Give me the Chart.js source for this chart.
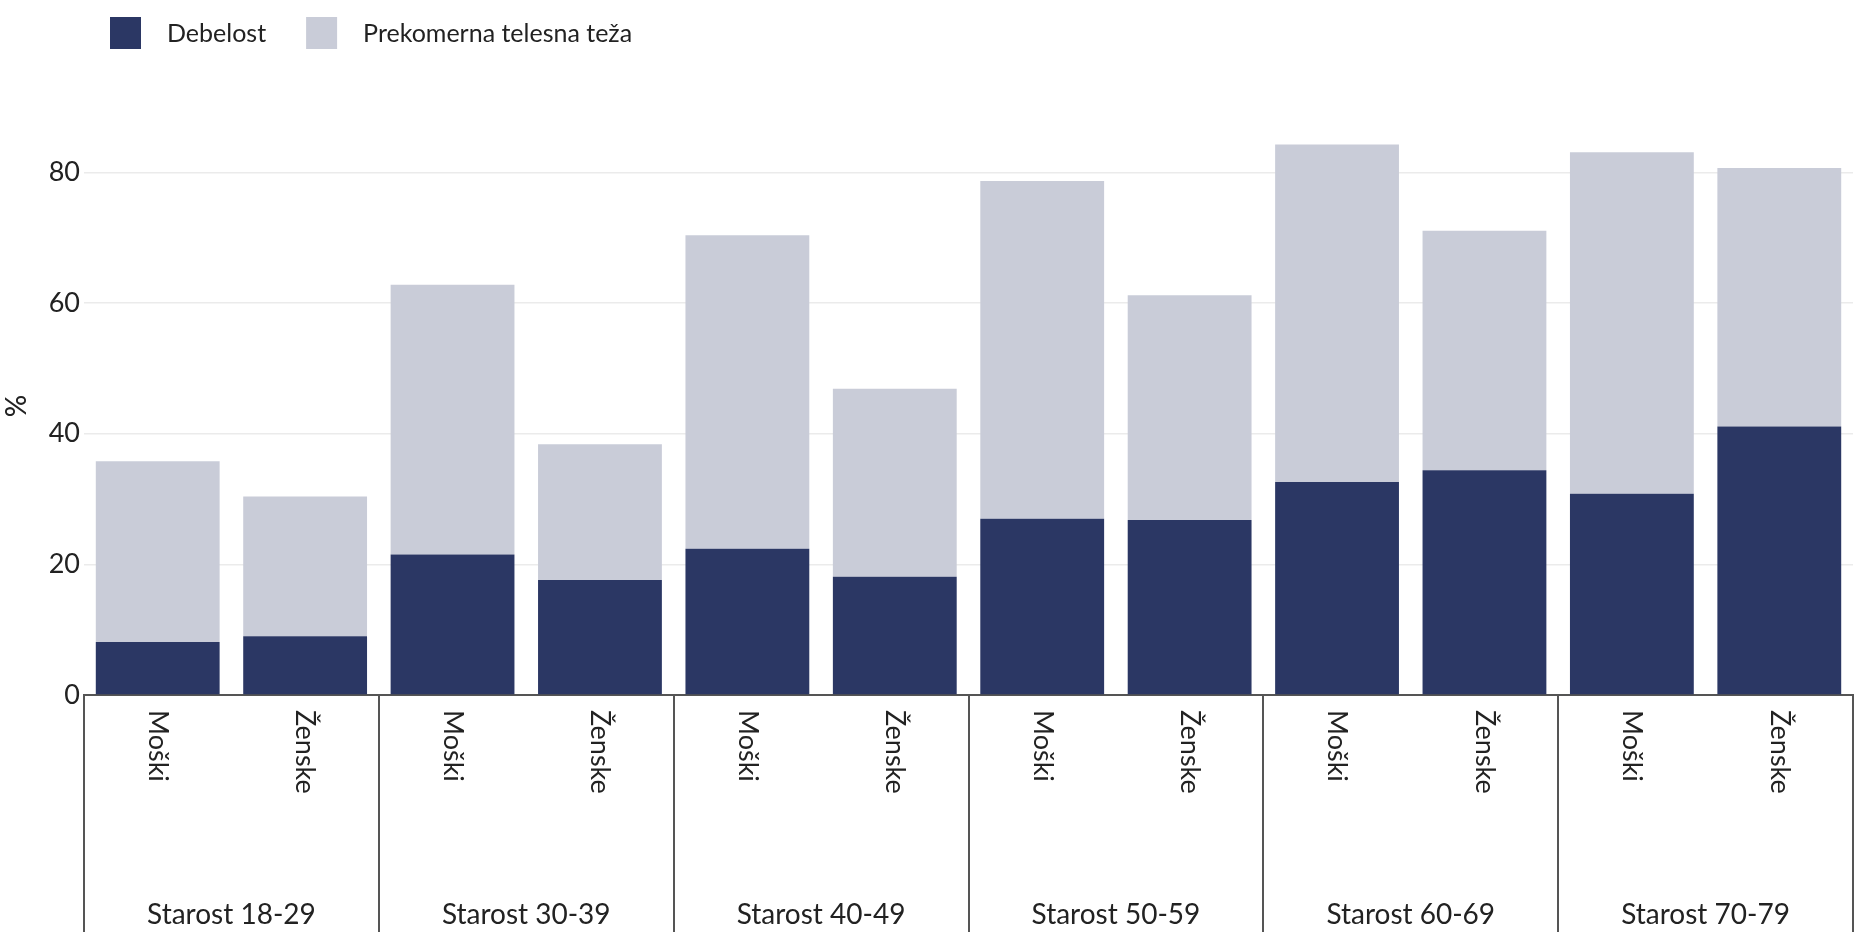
<!DOCTYPE html>
<html>
<head>
<meta charset="utf-8">
<script src="https://cdn.jsdelivr.net/npm/chart.js@4.4.0/dist/chart.umd.min.js"></script>
<style>
  html, body { margin: 0; padding: 0; background: #fff; }
  #wrap { width: 1857px; height: 941px; }
</style>
</head>
<body>
<div id="wrap"><canvas id="chart"></canvas></div>
<script>
const groups = ['Starost 18-29', 'Starost 30-39', 'Starost 40-49', 'Starost 50-59', 'Starost 60-69', 'Starost 70-79'];
const genders = ['Moški', 'Ženske'];
// Debelost (spodaj) in prekomerna telesna teža (zgoraj), po vrsti M/Ž za vsako starostno skupino
const debelost = [8.1, 9.0, 21.5, 17.6, 22.4, 18.1, 27.0, 26.8, 32.6, 34.4, 30.8, 41.1];
const prekomerna = [27.7, 21.4, 41.3, 20.8, 48.0, 28.8, 51.7, 34.4, 51.7, 36.7, 52.3, 39.6];
const yTicks = [0, 20, 40, 60, 80];

const xLabels = groups.flatMap(() => genders);
const FONT = 'Lato';
const TEXT = '#222';

// labels under the axis, group separators and legend
const decorPlugin = {
  id: 'decor',
  afterDraw(chart) {
    const ctx = chart.ctx;
    const x = chart.scales.x;
    const area = chart.chartArea;
    const slot = x.getPixelForValue(1) - x.getPixelForValue(0);
    ctx.save();
    ctx.fillStyle = TEXT;
    ctx.font = '27px ' + FONT;

    xLabels.forEach((lab, i) => {
      ctx.save();
      ctx.translate(x.getPixelForValue(i), area.bottom + 15);
      ctx.rotate(Math.PI / 2);
      ctx.textAlign = 'left';
      ctx.textBaseline = 'middle';
      ctx.fillText(lab, 0, 0);
      ctx.restore();
    });

    ctx.font = '28px ' + FONT;
    ctx.textAlign = 'center';
    ctx.textBaseline = 'middle';
    groups.forEach((g, k) => {
      const cx = (x.getPixelForValue(2 * k) + x.getPixelForValue(2 * k + 1)) / 2;
      ctx.fillText(g, cx, 915);
    });

    ctx.strokeStyle = '#555';
    ctx.lineWidth = 2;
    for (let k = 0; k <= groups.length; k++) {
      const sx = Math.round(x.getPixelForValue(0) - slot / 2 + k * 2 * slot);
      ctx.beginPath();
      ctx.moveTo(sx, area.bottom);
      ctx.lineTo(sx, 932);
      ctx.stroke();
    }

    // legend
    let lx = 110;
    ctx.textAlign = 'left';
    ctx.font = '25px ' + FONT;
    chart.data.datasets.forEach(ds => {
      ctx.fillStyle = ds.backgroundColor;
      ctx.fillRect(lx, 17, 31, 32);
      ctx.fillStyle = TEXT;
      ctx.fillText(ds.label, lx + 57, 34);
      lx += 57 + ctx.measureText(ds.label).width + 40;
    });
    ctx.restore();
  }
};

new Chart(document.getElementById('chart'), {
  type: 'bar',
  data: {
    labels: xLabels,
    datasets: [
      { label: 'Debelost', data: debelost, backgroundColor: '#2b3764' },
      { label: 'Prekomerna telesna teža', data: prekomerna, backgroundColor: '#c9ccd8' }
    ]
  },
  options: {
    responsive: true,
    maintainAspectRatio: false,
    devicePixelRatio: 1,
    animation: false,
    layout: { padding: { top: 117, right: 4, left: 0, bottom: 0 } },
    datasets: { bar: { barPercentage: 0.84, categoryPercentage: 1 } },
    plugins: { legend: { display: false }, tooltip: { enabled: false } },
    scales: {
      x: {
        stacked: true,
        grid: { display: false },
        border: { display: true, color: '#555', width: 2 },
        ticks: { display: false },
        afterFit(scale) { scale.height = 246; }
      },
      y: {
        stacked: true,
        min: 0,
        max: 88.5,
        afterBuildTicks(scale) { scale.ticks = yTicks.map(v => ({ value: v })); },
        afterFit(scale) { scale.width = 84; },
        grid: { color: '#ebebeb', lineWidth: 1.5, drawTicks: false },
        border: { display: false },
        ticks: { padding: 4, color: TEXT, font: { family: FONT, size: 27 } },
        title: { display: true, text: '%', color: TEXT, font: { family: FONT, size: 28, weight: '500' }, padding: { top: 0, bottom: 0 } }
      }
    }
  },
  plugins: [decorPlugin]
});
</script>
</body>
</html>
